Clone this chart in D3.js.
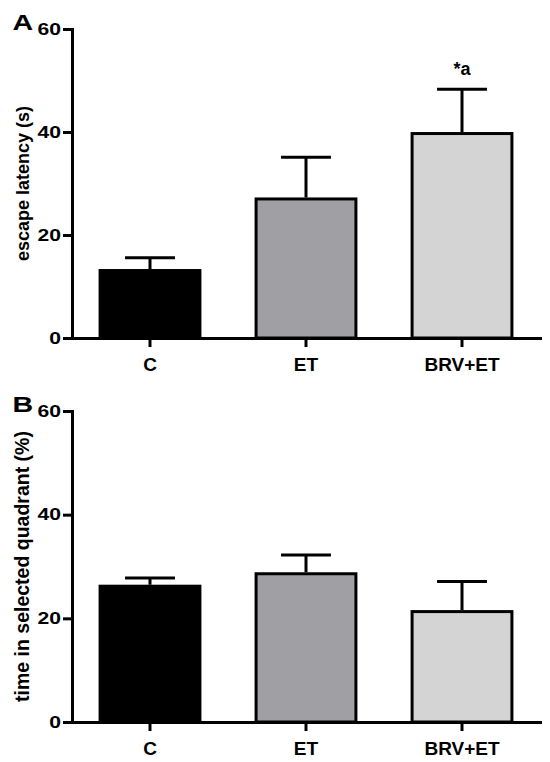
<!DOCTYPE html>
<html>
<head>
<meta charset="utf-8">
<script src="https://cdn.jsdelivr.net/npm/d3@7"></script>
<style>
  html, body { margin: 0; padding: 0; background: #fff; }
  svg { display: block; }
</style>
</head>
<body>
<div id="chart"></div>
<script>
// groups on the x axis
var groups = ["C", "ET", "BRV+ET"];
var groupColors = ["#000000", "#a0a0a4", "#d4d4d4"];

// panel A: escape latency (s), mean and upper SEM
var latencyMean = [13.1, 27.0, 39.7];
var latencyErr = [2.5, 8.1, 8.6];
var latencyMarks = ["", "", "*a"];

// panel B: time in selected quadrant (%), mean and upper SEM
var quadrantMean = [26.2, 28.6, 21.3];
var quadrantErr = [1.6, 3.6, 5.8];
var quadrantMarks = ["", "", ""];

var yTicks = [0, 20, 40, 60];

var width = 550;
var height = 762;
var FONT = "\"Liberation Sans\", Arial, sans-serif";

var svg = d3.select("#chart").append("svg")
	.attr("width", width)
	.attr("height", height);

var x = d3.scaleBand()
	.domain(groups)
	.range([72, 540])
	.paddingInner(0.36)
	.paddingOuter(0.18);

// the original figure has its tick labels a bit wider than tall
function stretch(sel, s) {
	sel.attr("transform", function() {
		var ax = +this.getAttribute("x") || 0;
		return "translate(" + ax + ",0) scale(" + s + ",1) translate(" + (-ax) + ",0)";
	});
}

function drawPanel(opts) {
	var y = d3.scaleLinear()
		.domain([0, 60])
		.range([opts.bottom, opts.top]);

	var g = svg.append("g");

	// bars
	g.append("g")
		.selectAll("rect")
		.data(opts.mean)
		.enter().append("rect")
		.attr("x", function(d, i) { return x(groups[i]); })
		.attr("y", function(d) { return y(d); })
		.attr("width", x.bandwidth())
		.attr("height", function(d) { return y(0) - y(d); })
		.attr("fill", function(d, i) { return groupColors[i]; })
		.attr("stroke", "#000")
		.attr("stroke-width", 3);

	// upper error bars
	var capW = x.bandwidth() / 2;
	g.append("g")
		.attr("stroke", "#000")
		.attr("stroke-width", 3)
		.attr("fill", "none")
		.selectAll("path")
		.data(opts.mean)
		.enter().append("path")
		.attr("d", function(d, i) {
			var cx = x(groups[i]) + x.bandwidth() / 2;
			var top = y(d + opts.err[i]);
			return "M" + cx + "," + (y(d) - 1.5) + "V" + top +
				"M" + (cx - capW / 2) + "," + top + "H" + (cx + capW / 2);
		});

	// significance marks
	g.append("g")
		.selectAll("text")
		.data(opts.marks)
		.enter().append("text")
		.attr("x", function(d, i) { return x(groups[i]) + x.bandwidth() / 2; })
		.attr("y", function(d, i) { return y(opts.mean[i] + opts.err[i]) - 14; })
		.attr("text-anchor", "middle")
		.attr("font-family", FONT)
		.attr("font-weight", "bold")
		.attr("font-size", 18)
		.text(function(d) { return d; });

	// y axis
	var ya = g.append("g")
		.attr("transform", "translate(72,0)")
		.call(d3.axisLeft(y).tickValues(yTicks).tickSize(9).tickSizeOuter(0).tickPadding(2));
	ya.select(".domain").attr("stroke", "#000").attr("stroke-width", 3).attr("stroke-linecap", "square");
	ya.selectAll(".tick line").attr("stroke", "#000").attr("stroke-width", 3);
	ya.selectAll(".tick text")
		.attr("font-family", FONT)
		.attr("font-weight", "bold")
		.attr("font-size", 16)
		.attr("fill", "#000")
		.call(stretch, 1.32);

	// x axis
	var xa = g.append("g")
		.attr("transform", "translate(0," + y(0) + ")")
		.call(d3.axisBottom(x).tickSize(9).tickSizeOuter(0).tickPadding(11));
	xa.select(".domain").attr("stroke", "#000").attr("stroke-width", 3).attr("stroke-linecap", "square");
	xa.selectAll(".tick line").attr("stroke", "#000").attr("stroke-width", 3);
	xa.selectAll(".tick text")
		.attr("font-family", FONT)
		.attr("font-weight", "bold")
		.attr("font-size", 19)
		.attr("fill", "#000");

	// y axis title
	g.append("text")
		.attr("transform", "translate(29," + (opts.top + opts.bottom) / 2 + ") rotate(-90)")
		.attr("text-anchor", "middle")
		.attr("font-family", FONT)
		.attr("font-weight", "bold")
		.attr("font-size", opts.titleSize)
		.text(opts.title);

	// panel letter
	g.append("text")
		.attr("x", 12.5)
		.attr("y", opts.top + 1.5)
		.attr("font-family", FONT)
		.attr("font-weight", "bold")
		.attr("font-size", 22)
		.text(opts.letter)
		.call(stretch, 1.3);
}

drawPanel({
	letter: "A",
	title: "escape latency (s)",
	titleSize: 18,
	top: 29,
	bottom: 338,
	mean: latencyMean,
	err: latencyErr,
	marks: latencyMarks
});

drawPanel({
	letter: "B",
	title: "time in selected quadrant (%)",
	titleSize: 19.5,
	top: 411,
	bottom: 722,
	mean: quadrantMean,
	err: quadrantErr,
	marks: quadrantMarks
});
</script>
</body>
</html>
